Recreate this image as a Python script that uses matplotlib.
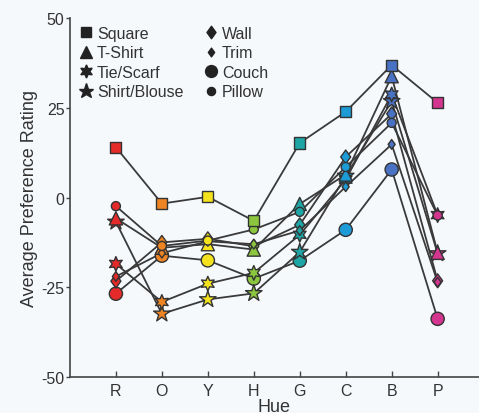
import matplotlib
matplotlib.use("Agg")
import matplotlib.pyplot as plt
from matplotlib.lines import Line2D
from matplotlib.path import Path

plt.rcParams["font.family"] = ["Liberation Sans", "DejaVu Sans"]
plt.rcParams["axes.unicode_minus"] = False

# Hue categories and the colour each hue column is drawn in.
hues = ["R", "O", "Y", "H", "G", "C", "B", "P"]
hue_colors = ["#e52a2a", "#ef8423", "#f4e31c", "#8cc63e",
              "#1ea5a6", "#1c9bd7", "#4a72c4", "#d3358f"]

# Average preference rating per object type.
square = [14.0, -1.7, 0.2, -6.5, 15.2, 23.9, 36.9, 26.4]
t_shirt = [-5.8, -14.0, -13.0, -14.5, -1.8, 6.4, 33.8, -15.4]
tie_scarf = [-18.5, -29.1, -24.0, -21.0, -10.4, 5.0, 28.7, -4.9]
shirt_blouse = [-6.8, -32.4, -28.4, -26.7, -15.2, 6.0, 26.8, -15.6]
wall = [-23.3, -12.5, -11.5, -13.6, -7.6, 11.3, 23.3, -23.2]
trim = [-22.0, -15.5, -12.2, -13.0, -9.2, 3.0, 14.8, -23.6]
couch = [-26.8, -16.2, -17.5, -22.6, -17.6, -9.0, 7.8, -33.8]
pillow = [-2.4, -13.5, -12.0, -8.9, -4.0, 8.5, 20.8, -5.0]

# custom markers: 6-point star and a slightly tall diamond
star6 = (6, 1, 0)
tall_diamond = Path([(0, 1), (0.72, 0), (0, -1), (-0.72, 0), (0, 1)],
                    [Path.MOVETO, Path.LINETO, Path.LINETO, Path.LINETO, Path.CLOSEPOLY])

# (label, values, marker, marker size in pt) -- drawing order bottom to top
series = [
    ("Couch", couch, "o", 9.5),
    ("Wall", wall, tall_diamond, 10.0),
    ("Shirt/Blouse", shirt_blouse, "*", 12.5),
    ("Tie/Scarf", tie_scarf, star6, 10.5),
    ("T-Shirt", t_shirt, "^", 9.5),
    ("Trim", trim, tall_diamond, 7.0),
    ("Pillow", pillow, "o", 6.5),
    ("Square", square, "s", 8.0),
]
legend_order = ["Square", "T-Shirt", "Tie/Scarf", "Shirt/Blouse",
                "Wall", "Trim", "Couch", "Pillow"]

bg = "#f6f9fc"
ink = "#333333"

fig = plt.figure(figsize=(4.79, 4.14), dpi=100, facecolor=bg)
ax = fig.add_axes([0.146, 0.087, 0.854, 0.867], facecolor=bg)

x = list(range(1, len(hues) + 1))

# all connecting lines below all markers
for label, vals, marker, ms in series:
    ax.plot(x, vals, color="#3a3a3a", linewidth=1.3, zorder=2)

for i, (label, vals, marker, ms) in enumerate(series):
    ax.scatter(x, vals, s=ms ** 2, marker=marker, c=hue_colors,
               edgecolors=ink, linewidths=1.0, zorder=3 + i)

ax.set_xlim(0, 8.9)
ax.set_ylim(-50, 50)
ax.set_xticks(x)
ax.set_xticklabels(hues)
ax.set_yticks([-50, -25, 0, 25, 50])

for side in ("top", "right"):
    ax.spines[side].set_visible(False)
for side in ("left", "bottom"):
    ax.spines[side].set_color("#444444")
    ax.spines[side].set_linewidth(1.2)

ax.tick_params(axis="y", direction="out", length=3, width=1, color="#444444",
               labelsize=11.5, labelcolor=ink, pad=1)
ax.tick_params(axis="x", direction="in", length=4, width=1, color="#444444",
               labelsize=11.5, labelcolor=ink, pad=4)

ax.set_ylabel("Average Preference Rating", fontsize=13, color=ink, labelpad=2)
ax.set_xlabel("Hue", fontsize=13, color=ink, labelpad=0)

# legend with black markers
sizes = {label: (marker, ms) for label, _, marker, ms in series}
handles = []
for label in legend_order:
    marker, ms = sizes[label]
    handles.append(Line2D([], [], linestyle="none", marker=marker,
                          markersize=ms * 0.9, markerfacecolor="#222222",
                          markeredgecolor="#222222", label=label))
leg = ax.legend(handles=handles, ncol=2, loc="upper left",
                bbox_to_anchor=(0.0, 1.005), frameon=False, fontsize=11.5,
                handlelength=0.8, handletextpad=0.3, columnspacing=1.3,
                labelspacing=0.28, borderaxespad=0.2)
for t in leg.get_texts():
    t.set_color(ink)

fig.savefig("out.png", dpi=100, facecolor=bg)
